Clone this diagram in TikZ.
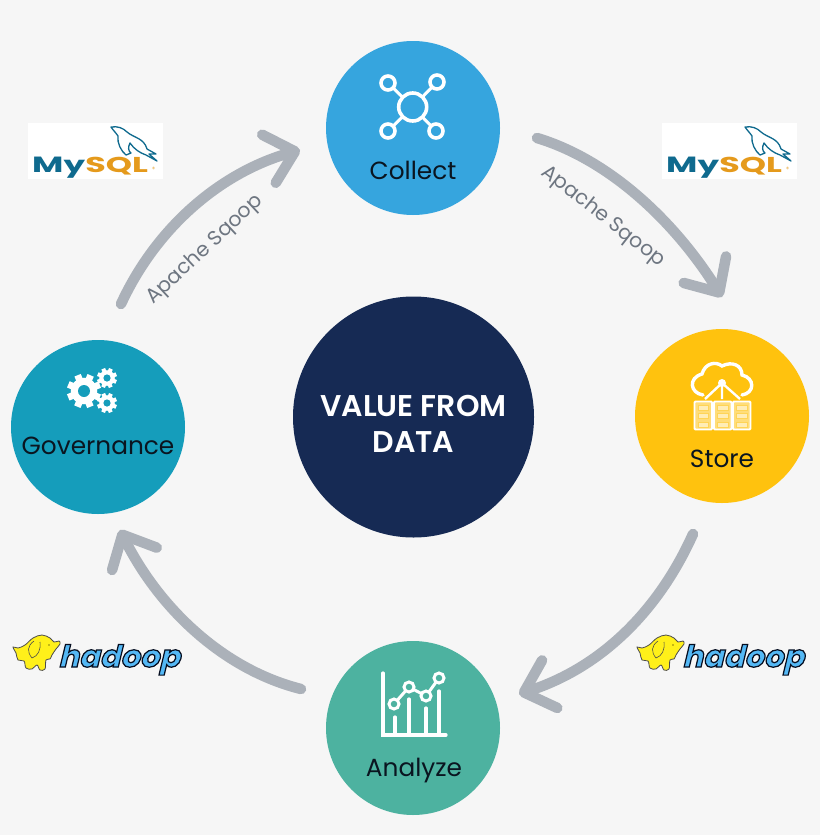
\documentclass[tikz,border=0pt]{standalone}
\usepackage{fontspec}
\setmainfont{Poppins}
\newfontfamily\hadoopfont[FakeSlant=0.24,FakeBold=4]{Poppins Bold}
\newfontfamily\semifont{Poppins SemiBold}
\usetikzlibrary{arrows.meta}
\definecolor{bgc}{HTML}{F6F6F6}
\definecolor{cCollect}{HTML}{36A5DE}
\definecolor{cStore}{HTML}{FFC20E}
\definecolor{cAnalyze}{HTML}{4DB2A0}
\definecolor{cGov}{HTML}{159DBB}
\definecolor{cCore}{HTML}{162A54}
\definecolor{cFlow}{HTML}{ABB1B9}
\definecolor{cInk}{HTML}{0A1520}
\definecolor{cSq}{HTML}{6E7681}
\definecolor{cMyB}{HTML}{0F6A8E}
\definecolor{cMyO}{HTML}{E59A1C}
\definecolor{cEl}{HTML}{FFF01A}
\tikzset{
  x=1pt,y=-1pt,
  stage/.style={circle,minimum size=174pt,inner sep=0pt},
  stagetext/.style={font=\fontsize{24.8}{28}\selectfont,text=cInk,inner sep=0pt},
  flow/.style={draw=cFlow,line width=10.5pt,line cap=round,line join=round,
    -{Straight Barb[length=27pt,width=50pt,round,line width=10.5pt]}},
  sqoop/.style={font=\fontsize{20.4}{24}\selectfont,text=cSq,inner sep=0pt},
  icon/.style={draw=white,line width=3.6pt},
  barline/.style={draw=white,line width=3.2pt,line cap=round},
  mysql/.pic={
    \fill[white] (0,0) rectangle (135,56);
    \node[anchor=base west,inner sep=0pt,text=cMyB] (-my) at (4,49)
      {\scalebox{1.55}[1]{\fontsize{22}{24}\selectfont\bfseries My}};
    \node[anchor=base west,inner sep=0pt,text=cMyO] (-sql) at (-my.base east)
      {\scalebox{1.55}[1]{\fontsize{21.5}{24}\selectfont\bfseries SQL}};
    \node[anchor=base west,inner sep=0pt,text=cMyO] (-reg) at (124,48) {\fontsize{6}{7}\selectfont ®};
    \draw[cMyB,line width=1.3pt,line join=round,fill=white]
      (83,4) .. controls (90,3) and (95,5) .. (99,9)
      .. controls (106,15) and (116,15) .. (119,26)
      -- (128,31) -- (121,31) -- (129,38) -- (118,32)
      .. controls (112,30) and (106,26) .. (102,20)
      .. controls (100,24) and (100,28) .. (103,30)
      -- (98,32) .. controls (93,28) and (89,20) .. (90,13)
      .. controls (88,10) and (85,7) .. (83,4) -- cycle;
  },
  hadoop/.pic={
    \fill[cEl,draw=black!70,line width=.8pt] plot[smooth cycle,tension=.6] coordinates
      {(13,647) (18,648) (25,645) (33,638) (42,635) (50,638) (54,642) (59,641) (60,644)
       (56,649) (52,655) (50,659) (46,660) (45,669) (40,670) (37,665) (32,669) (26,668) (24,661) (18,660) (16,653)};
    \draw[black!70,line width=.6pt] (34,641) .. controls (27,646) and (27,652) .. (32,658)
      .. controls (38,656) and (41,650) .. (40,642);
    \fill[black] (49,645) circle (.7);
    \node[anchor=base west,inner sep=0pt] (-txt) at (58,667)
      {\special{pdf:bcolor [0.33 0.72 0.96] [0.02 0.05 0.12]}\hadoopfont\fontsize{30.5}{32}\selectfont hadoop\special{pdf:ecolor}};
  },
}
\newcommand{\GearAt}[4]{% x y outer hole
  \fill[white] (#1,#2) circle (#3*0.78);
  \foreach \a in {0,45,...,315}
    \fill[white,shift={(#1,#2)},rotate=\a+22] (-#3*0.2,-#3*0.65) rectangle (#3*0.2,-#3);
  \fill[cGov] (#1,#2) circle (#4);
}
\begin{document}
\begin{tikzpicture}
\useasboundingbox (0,0) rectangle (820,835);
\fill[bgc] (0,0) rectangle (820,835);

% stages
\node[stage,fill=cCollect] (collect) at (413,128) {};
\node[stage,fill=cStore]   (store)   at (722,416) {};
\node[stage,fill=cAnalyze] (analyze) at (413,728) {};
\node[stage,fill=cGov]     (gov)     at (98,427)  {};
\node[circle,minimum size=241pt,inner sep=0pt,fill=cCore] (core) at (413.5,417) {};
\node[text=white,align=center,inner sep=0pt,font=\fontsize{30}{36}\semifont] (tCore) at (413.5,424) {VALUE FROM\\DATA};

% labels
\node[stagetext] (tCollect) at (413,170) {Collect};
\node[stagetext] (tStore)   at (722,459) {Store};
\node[stagetext] (tAnalyze) at (414,771) {Analyze};
\node[stagetext] (tGov)     at (98,446)  {Governance};

% flow arrows
\coordinate (f1a) at (121,304); \coordinate (f1b) at (300,150);
\coordinate (f2a) at (537,138); \coordinate (f2b) at (722,297);
\coordinate (f3a) at (693,534); \coordinate (f3b) at (519,694);
\coordinate (f4a) at (301,689); \coordinate (f4b) at (120,530);
\draw[flow] (f1a) .. controls (157,226) and (222,172) .. (f1b);
\draw[flow] (f2a) .. controls (610,160) and (675,222) .. (f2b);
\draw[flow] (f3a) .. controls (658,612) and (600,668) .. (f3b);
\draw[flow] (f4a) .. controls (225,670) and (160,610) .. (f4b);

\node[sqoop,rotate=43]  (sq1) at (205,250) {Apache Sqoop};
\node[sqoop,rotate=-38] (sq2) at (603,217) {Apache Sqoop};

% collect icon
\coordinate (hub) at (412.7,107);
\coordinate (s1) at (388,83); \coordinate (s2) at (437,82);
\coordinate (s3) at (388,131); \coordinate (s4) at (436,131);
\foreach \s in {s1,s2,s3,s4} {
  \draw[white,line width=3pt] (hub) -- (\s);
  \draw[icon,fill=cCollect] (\s) circle (7);
}
\draw[icon,fill=cCollect] (hub) circle (14);

% store icon
\draw[white,line width=3.4pt,line cap=round] (703,395)
  .. controls (690,393) and (688,378) .. (702,374)
  .. controls (705,363) and (716,361) .. (722,366)
  .. controls (732,361) and (742,365) .. (742,375)
  .. controls (755,378) and (755,393) .. (742,395);
\fill[white] (722,383) circle (4);
\draw[white,line width=2.4pt] (722,383) -- (705,399) (722,383) -- (722,399) (722,383) -- (740,399);
\foreach \x in {694.5,714,733} {
  \draw[white,fill=cStore!55!white,line width=1.8pt,rounded corners=1pt] (\x,401.5) rectangle +(17.5,28);
  \foreach \y in {405,413.5,422}
    \draw[cStore!70!white,fill=cStore!30!white,line width=.6pt] (\x+3.5,\y) rectangle +(10.5,5);
}

% analyze icon
\draw[barline] (383,673) -- (383,735) -- (446,735);
\draw[barline] (395,717) -- (395,735) (409,699) -- (409,735) (426,708) -- (426,735) (439,691) -- (439,735);
\draw[white,line width=3pt] (394,704) -- (409,687) -- (426,696) -- (439,678);
\foreach \p in {(394,704),(409,687),(426,696),(439,678)}
  \draw[white,fill=cAnalyze,line width=3pt] \p circle (5);

% governance icon
\GearAt{84}{391}{17}{6}
\GearAt{107}{378}{10}{3.6}
\GearAt{107}{403}{10}{3.6}

% logos
\pic (myL) at (28,123) {mysql};
\pic (myR) at (662,123) {mysql};
\pic (hdL) at (0,0) {hadoop};
\pic (hdR) at (624,0) {hadoop};
\end{tikzpicture}
\end{document}
